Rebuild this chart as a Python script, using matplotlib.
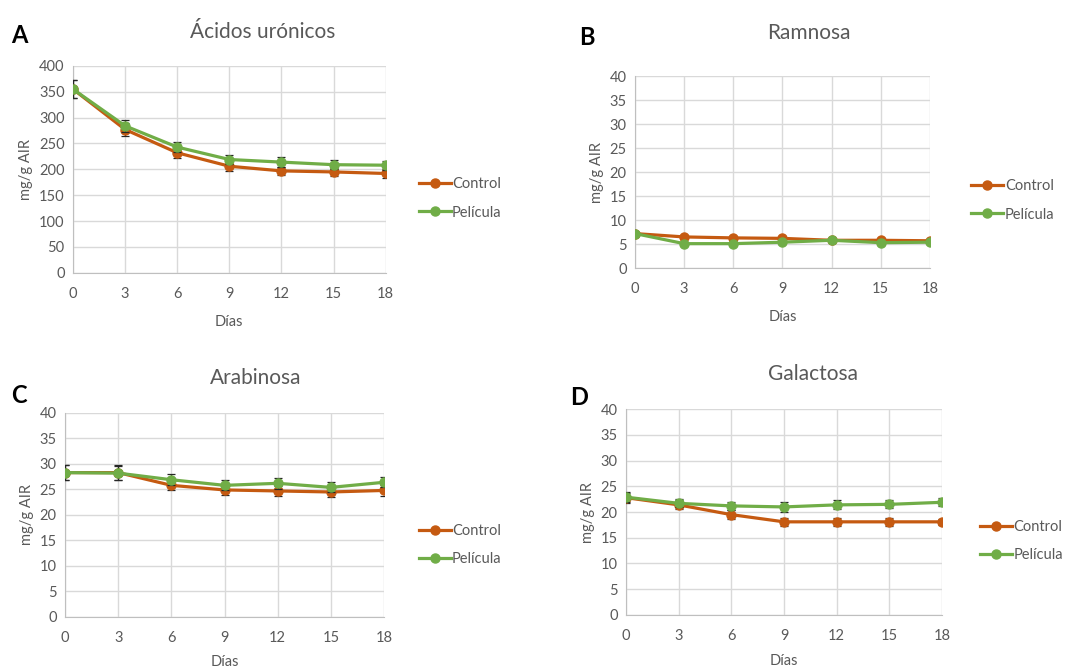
import numpy as np
import matplotlib.pyplot as plt

plt.rcParams['font.family'] = ['Lato', 'DejaVu Sans']

dias = [0, 3, 6, 9, 12, 15, 18]

# A - acidos uronicos
uron_ctrl = [355, 277, 232, 206, 197, 195, 192]
uron_ctrl_err = [17, 12, 10, 9, 8, 8, 8]
uron_pel = [355, 284, 243, 219, 214, 209, 208]
uron_pel_err = [17, 12, 10, 9, 9, 9, 9]

# B - ramnosa
ram_ctrl = [7.2, 6.5, 6.3, 6.2, 5.8, 5.8, 5.7]
ram_ctrl_err = [0.3, 0.2, 0.2, 0.2, 0.2, 0.2, 0.2]
ram_pel = [7.2, 5.1, 5.1, 5.4, 5.8, 5.3, 5.4]
ram_pel_err = [0.3, 0.2, 0.2, 0.2, 0.2, 0.2, 0.2]

# C - arabinosa
ara_ctrl = [28.3, 28.3, 25.8, 24.9, 24.7, 24.5, 24.8]
ara_ctrl_err = [1.4, 1.4, 1.0, 1.0, 1.0, 1.0, 1.0]
ara_pel = [28.3, 28.2, 26.9, 25.8, 26.2, 25.4, 26.4]
ara_pel_err = [1.4, 1.4, 1.1, 1.0, 1.1, 1.0, 1.0]

# D - galactosa
gal_ctrl = [22.8, 21.4, 19.5, 18.1, 18.1, 18.1, 18.1]
gal_ctrl_err = [1.0, 0.9, 0.9, 0.8, 0.8, 0.8, 0.6]
gal_pel = [22.9, 21.7, 21.2, 21.0, 21.4, 21.5, 21.9]
gal_pel_err = [1.0, 0.8, 0.8, 0.9, 0.9, 0.8, 0.8]

c_ctrl = '#C55A11'
c_pel = '#70AD47'
grey = '#595959'

# letter, title, axes rect, ymax, step, data..., letter pos, legend pos, title pos, xlabel pad
panels = [
    ('A', 'Ácidos urónicos', [0.0672, 0.594, 0.288, 0.308], 400, 50,
     uron_ctrl, uron_ctrl_err, uron_pel, uron_pel_err,
     (0.010, 0.965), (0.380, 0.705), (0.242, 0.952), 10),
    ('B', 'Ramnosa', [0.5847, 0.601, 0.2716, 0.2857], 40, 5,
     ram_ctrl, ram_ctrl_err, ram_pel, ram_pel_err,
     (0.533, 0.962), (0.889, 0.702), (0.745, 0.951), 10),
    ('C', 'Arabinosa', [0.0599, 0.082, 0.2937, 0.3035], 40, 5,
     ara_ctrl, ara_ctrl_err, ara_pel, ara_pel_err,
     (0.010, 0.428), (0.380, 0.189), (0.235, 0.437), 7),
    ('D', 'Galactosa', [0.5764, 0.085, 0.291, 0.306], 40, 5,
     gal_ctrl, gal_ctrl_err, gal_pel, gal_pel_err,
     (0.525, 0.425), (0.897, 0.195), (0.749, 0.443), 8),
]

fig = plt.figure(figsize=(10.86, 6.72), dpi=100)

for letra, titulo, pos, ymax, ystep, yc, ec, yp, ep, lpos, legpos, tpos, xpad in panels:
    ax = fig.add_axes(pos)
    ax.errorbar(dias, yc, yerr=ec, color=c_ctrl, lw=2.3, marker='o', ms=6.5,
                ecolor='#262626', elinewidth=0.9, capsize=3, capthick=0.9,
                label='Control', zorder=3)
    ax.errorbar(dias, yp, yerr=ep, color=c_pel, lw=2.3, marker='o', ms=6.5,
                ecolor='#262626', elinewidth=0.9, capsize=3, capthick=0.9,
                label='Película', zorder=4)
    ax.set_xlim(0, 18)
    ax.set_ylim(0, ymax)
    ax.set_xticks(dias)
    ax.set_yticks(np.arange(0, ymax + 1, ystep))
    ax.grid(True, color='#D9D9D9', lw=1)
    ax.set_axisbelow(True)
    for s in ['top', 'right']:
        ax.spines[s].set_visible(False)
    for s in ['left', 'bottom']:
        ax.spines[s].set_color('#BFBFBF')
    ax.tick_params(length=0, labelsize=10.5, labelcolor=grey)
    ax.tick_params(axis='x', pad=10)
    ax.tick_params(axis='y', pad=6)
    for lab in ax.get_xticklabels() + ax.get_yticklabels():
        lab.set_clip_on(False)
    ax.set_xlabel('Días', fontsize=10.5, color=grey, labelpad=xpad)
    ax.set_ylabel('mg/g AIR', fontsize=10.5, color=grey, labelpad=4)
    fig.text(tpos[0], tpos[1], titulo, fontsize=15, color=grey,
             ha='center', va='center')
    fig.text(lpos[0], lpos[1], letra, fontsize=17, fontweight='bold',
             va='top', ha='left')
    h, l = ax.get_legend_handles_labels()
    h = [x[0] for x in h]
    ax.legend(h, l, loc='center left', bbox_to_anchor=legpos,
              bbox_transform=fig.transFigure, frameon=False, fontsize=10.5,
              labelcolor=grey, handlelength=2.2, handletextpad=0.1,
              labelspacing=1.0, borderaxespad=0)

fig.savefig('out.png', dpi=100)
